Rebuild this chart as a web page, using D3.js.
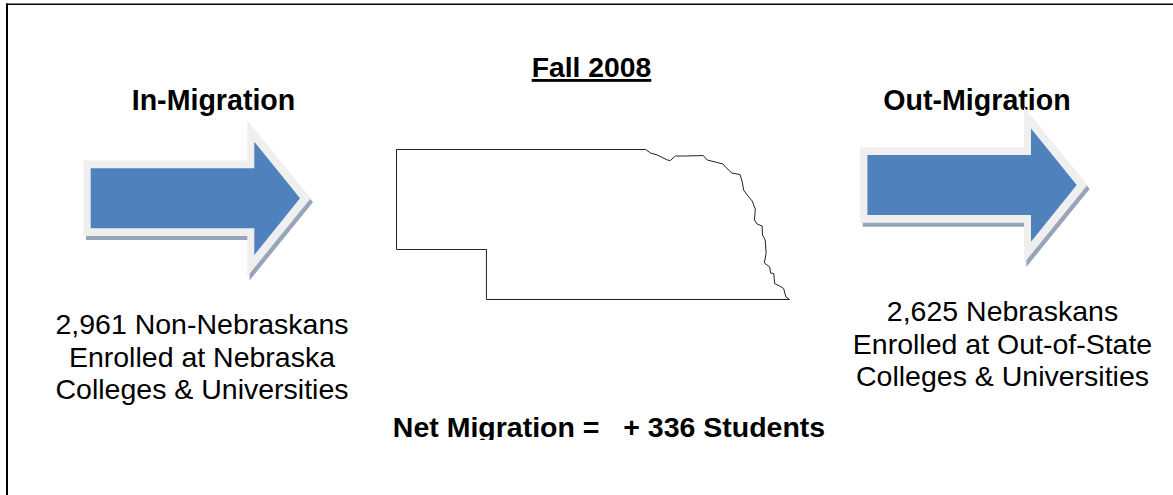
<!DOCTYPE html>
<html>

<head>
	<meta charset="utf-8" />
	<script src="https://d3js.org/d3.v7.min.js"></script>
	<title>Fall 2008 Net Migration</title>
	<style>
		html, body { margin: 0; padding: 0; background: #fff; overflow: hidden; }
		text { font-family: "Liberation Sans", Arial, sans-serif; fill: #000; white-space: pre; }
	</style>
</head>

<body>
	<div id="my_dataviz"></div>
	<script>

		// texts
		var chartTitle = "Fall 2008";
		var netLabel = "Net Migration =   + 336 Students";
		var flowTitles = ["In-Migration", "Out-Migration"];
		var inLines = ["2,961 Non-Nebraskans", "Enrolled at Nebraska", "Colleges & Universities"];
		var outLines = ["2,625 Nebraskans", "Enrolled at Out-of-State", "Colleges & Universities"];

		// state outline (clockwise from the north west corner)
		var outlineLon = [-104.05, -98.51, -98.40, -98.25, -98.03, -97.96, -97.85, -97.62, -97.23, -97.14, -96.96, -96.79,
			-96.70, -96.59, -96.41, -96.36, -96.33, -96.25, -96.14, -96.07, -96.09, -96.03, -95.92, -95.91, -95.85, -95.83,
			-95.87, -95.75, -95.73, -95.66, -95.64, -95.53, -95.44, -95.39, -95.31, -102.05, -102.05, -104.05, -104.05];
		var outlineLat = [43, 43, 42.93, 42.89, 42.79, 42.78, 42.87, 42.87, 42.88, 42.79, 42.75, 42.71,
			42.62, 42.53, 42.50, 42.35, 42.19, 42.09, 41.97, 41.81, 41.59, 41.51, 41.47, 41.29, 41.19, 40.92,
			40.73, 40.65, 40.53, 40.52, 40.32, 40.27, 40.22, 40.05, 40, 40, 41, 41, 43];

		var width = 1173, height = 495;

		var svg = d3.select("#my_dataviz")
			.append("svg")
			.attr("width", width)
			.attr("height", height)
			.style("display", "block");

		// frame: only top and left edges show
		svg.append("line").attr("x1", 6).attr("x2", width).attr("y1", 4.3).attr("y2", 4.3)
			.style("stroke", "#000").style("stroke-width", 1.6);
		svg.append("line").attr("x1", 7).attr("x2", 7).attr("y1", 3.5).attr("y2", height)
			.style("stroke", "#000").style("stroke-width", 2);

		// titles go under the arrows, the right arrow cuts into its title
		svg.append("text")
			.attr("x", 591.5).attr("y", 77)
			.attr("text-anchor", "middle")
			.style("font-size", "28.3px").style("font-weight", "bold")
			.style("text-decoration", "underline")
			.text(chartTitle);

		var titleX = [213.5, 977];
		svg.selectAll("text.flow")
			.data(flowTitles).enter()
			.append("text")
			.attr("class", "flow")
			.attr("x", function (d, i) { return titleX[i]; })
			.attr("y", 110)
			.attr("text-anchor", "middle")
			.style("font-size", "28.6px").style("font-weight", "bold")
			.text(function (d) { return d; });

		// arrow outline relative to its blue tip, the options push the edges outwards
		function arrowPoints(o) {
			return [
				[-209.3 - o.side, -30 - o.edge],
				[-45.7 - o.neck, -30 - o.edge],
				[-45.7 - o.neck, -56.6 - o.head],
				[o.tip, 0],
				[-45.7 - o.neck, 56.7 + o.head],
				[-45.7 - o.neck, 30 + o.edge],
				[-209.3 - o.side, 30 + o.edge]
			];
		}

		var arrowLine = d3.line().curve(d3.curveLinearClosed);
		var arrowTips = [[300, 198.3], [1076.7, 185]];

		arrowTips.forEach(function (t) {
			var g = svg.append("g").attr("transform", "translate(" + t[0] + "," + t[1] + ")");
			// shadow
			g.append("path")
				.attr("transform", "translate(2.3,4)")
				.attr("d", arrowLine(arrowPoints({ side: 7, edge: 7.7, neck: 7, head: 21.4, tip: 10.7 })))
				.style("fill", "#98a5b8");
			// pale bevel
			g.append("path")
				.attr("d", arrowLine(arrowPoints({ side: 7.4, edge: 7.7, neck: 7, head: 21.4, tip: 10.7 })))
				.style("fill", "#efefef");
			// blue face
			g.append("path")
				.attr("d", arrowLine(arrowPoints({ side: 0, edge: 0, neck: 0, head: 0, tip: 0 })))
				.style("fill", "#4f81bd");
		});

		// the state, plain lon/lat scales
		var x = d3.scaleLinear().domain([-104.05, -95.31]).range([396.5, 789.5]);
		var y = d3.scaleLinear().domain([43, 40]).range([149.5, 299.5]);

		var stateLine = d3.line()
			.x(function (d, i) { return x(outlineLon[i]); })
			.y(function (d, i) { return y(outlineLat[i]); });

		svg.append("path")
			.attr("d", stateLine(outlineLon))
			.style("fill", "none")
			.style("stroke", "#222")
			.style("stroke-width", 1);

		// captions under the arrows
		function caption(lines, cx, firstY) {
			svg.selectAll(null)
				.data(lines).enter()
				.append("text")
				.attr("x", cx)
				.attr("y", function (d, i) { return firstY + i * 32.7; })
				.attr("text-anchor", "middle")
				.style("font-size", "28.5px")
				.text(function (d) { return d; });
		}
		caption(inLines, 202, 334);
		caption(outLines, 1002.5, 321);

		// net line, bottom of its box clips the descender
		svg.append("clipPath").attr("id", "netClip")
			.append("rect").attr("x", 380).attr("y", 405).attr("width", 460).attr("height", 35);

		svg.append("text")
			.attr("x", 609).attr("y", 437)
			.attr("text-anchor", "middle")
			.attr("clip-path", "url(#netClip)")
			.style("font-size", "28.5px").style("font-weight", "bold")
			.text(netLabel);

	</script>
</body>

</html>
